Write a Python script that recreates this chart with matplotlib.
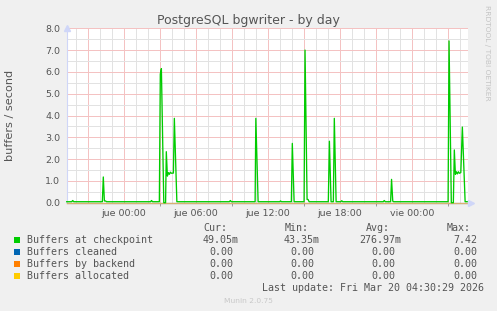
import matplotlib
matplotlib.use("Agg")
import matplotlib.pyplot as plt
from matplotlib.patches import Rectangle

# ---------------- data ----------------
title = "PostgreSQL bgwriter - by day"
ylabel = "buffers / second"
xtick_hours = [0, 6, 12, 18, 24]
xtick_labels = ["jue 00:00", "jue 06:00", "jue 12:00", "jue 18:00", "vie 00:00"]
ytick_values = [0, 1, 2, 3, 4, 5, 6, 7, 8]

# Buffers at checkpoint (hours relative to jue 00:00, buffers/second)
checkpoint_hours = [
    -4.76, -4.34, -4.26, -4.17, -1.79, -1.71, -1.62, -1.52, -1.44,
    2.23, 2.31, 2.39, 2.96, 3.04, 3.13, 3.33, 3.48, 3.54, 3.63, 3.71,
    3.79, 3.88, 3.96, 4.13, 4.21, 4.42, 8.79, 8.88, 8.96, 10.94, 11.00,
    11.19, 12.98, 13.06, 13.14, 13.96, 14.04, 14.19, 15.02, 15.10, 15.27,
    15.35, 15.44, 17.04, 17.13, 17.27, 17.46, 17.54, 17.69, 18.08, 18.16,
    18.24, 21.62, 21.70, 21.79, 22.23, 22.31, 22.41, 22.49, 27.02, 27.10,
    27.29, 27.46, 27.54, 27.63, 27.71, 27.79, 27.88, 27.96, 28.08, 28.21,
    28.44, 28.68,
]
checkpoint_values = [
    0.045, 0.045, 0.10, 0.045, 0.045, 1.18, 0.08, 0.08, 0.045,
    0.045, 0.10, 0.045, 0.045, 5.90, 6.15, 0.0, 0.0, 2.34, 1.22, 1.38,
    1.30, 1.40, 1.35, 1.36, 3.87, 0.045, 0.045, 0.10, 0.045, 0.045, 3.87,
    0.045, 0.045, 0.08, 0.045, 0.045, 2.72, 0.045, 0.045, 7.00, 0.15,
    0.15, 0.045, 0.045, 2.82, 0.045, 0.045, 3.87, 0.045, 0.045, 0.09,
    0.045, 0.045, 0.10, 0.045, 0.045, 1.07, 0.07, 0.045, 0.045, 7.42,
    0.0, 0.0, 2.42, 1.30, 1.42, 1.32, 1.42, 1.35, 1.38, 3.47,
    0.045, 0.049,
]
# the other three series are flat zero over the whole window
zero_hours = [-4.76, 28.68]
cleaned_values = [0.0, 0.0]
backend_values = [0.0, 0.0]
allocated_values = [0.0, 0.0]

legend_names = ["Buffers at checkpoint", "Buffers cleaned",
                "Buffers by backend", "Buffers allocated"]
legend_colors = ["#00CC00", "#0066B3", "#FF8000", "#FFCC00"]
cur_vals = ["49.05m", "0.00", "0.00", "0.00"]
min_vals = ["43.35m", "0.00", "0.00", "0.00"]
avg_vals = ["276.97m", "0.00", "0.00", "0.00"]
max_vals = ["7.42", "0.00", "0.00", "0.00"]
last_update = "Last update: Fri Mar 20 04:30:29 2026"
version = "Munin 2.0.75"
watermark = "RRDTOOL / TOBI OETIKER"

# ---------------- layout ----------------
W, H = 497, 311
fig = plt.figure(figsize=(W / 100, H / 100), dpi=100, facecolor="#F0F0F0")


def fx(px):
    return px / W


def fy(py):
    return 1 - py / H


TXT = "#555555"
L, R, T, B = 66.7, 468.0, 28.3, 202.7
ax = fig.add_axes([fx(L), fy(B), (R - L) / W, (B - T) / H])
ax.set_facecolor("white")
ax.set_xlim(-4.76, 28.68)
ax.set_ylim(0, 8)

# grid (dotted)
dots = (0, (1, 1))
minor_c = "#e2e2e2"
major_c = "#f4c2c2"
minor_x = [h for h in range(-4, 29) if h % 3 != 0]
major_x = [h for h in range(-4, 29) if h % 3 == 0]
for coll in [
    ax.vlines(minor_x, 0, 8, colors=minor_c, linewidth=0.72, linestyles=dots, zorder=1),
    ax.vlines(major_x, 0, 8, colors=major_c, linewidth=0.72, linestyles=dots, zorder=1),
    ax.hlines([v + 0.5 for v in range(0, 8)], -4.76, 28.68, colors=minor_c,
              linewidth=0.72, linestyles=dots, zorder=1),
    ax.hlines(range(1, 9), -4.76, 28.68, colors=major_c,
              linewidth=0.72, linestyles=dots, zorder=1),
]:
    coll.set_snap(True)
    coll.set_antialiased(False)

# series
ax.plot(zero_hours, cleaned_values, color=legend_colors[1], lw=0.8, zorder=2, clip_on=False)
ax.plot(zero_hours, backend_values, color=legend_colors[2], lw=0.8, zorder=2, clip_on=False)
ax.plot(zero_hours, allocated_values, color="#D8B070", lw=0.8, zorder=2, clip_on=False)
ax.plot(checkpoint_hours, checkpoint_values, color=legend_colors[0], lw=0.95,
        zorder=3, clip_on=False)

# axes
for s in ["top", "right"]:
    ax.spines[s].set_visible(False)
for s in ["left", "bottom"]:
    ax.spines[s].set_color("#CFD6F8")
    ax.spines[s].set_linewidth(0.8)
    ax.spines[s].set_zorder(1.5)
ax.plot([0], [1], marker="^", color="#CFD6F8", markersize=4.5,
        transform=ax.transAxes, clip_on=False, zorder=4)
ax.plot([1.008], [0], marker=">", color="#CFD6F8", markersize=4.5,
        transform=ax.transAxes, clip_on=False, zorder=4)

ax.set_xticks(xtick_hours)
ax.set_xticklabels(xtick_labels)
ax.set_xticks([3, 9, 15, 21, 27], minor=True)
ax.tick_params(axis="x", which="major", length=0, pad=4.3, labelsize=6.8,
               labelcolor=TXT)
ax.tick_params(axis="x", which="minor", length=2, width=0.7, color="#999999")
ax.set_yticks(ytick_values)
ax.set_yticklabels([f"{v:.1f}" for v in ytick_values])
ax.tick_params(axis="y", length=0, pad=4.8, labelsize=6.8, labelcolor=TXT)

# titles
fig.text(fx(248.3), fy(24.3), title, ha="center", va="baseline",
         fontsize=9, color=TXT)
fig.text(fx(10.5), fy(115), ylabel, ha="center", va="center",
         rotation=90, fontsize=8.1, color=TXT)
fig.text(fx(487.5), fy(53.3), watermark, ha="center", va="center",
         rotation=-90, fontsize=5.4, color="#c4c4c4")

# legend
mono = "DejaVu Sans Mono"
fs = 7.2
fig.text(fx(203.3), fy(231), "Cur:", family=mono, fontsize=fs, color=TXT)
fig.text(fx(284.3), fy(231), "Min:", family=mono, fontsize=fs, color=TXT)
fig.text(fx(365.7), fy(231), "Avg:", family=mono, fontsize=fs, color=TXT)
fig.text(fx(446.7), fy(231), "Max:", family=mono, fontsize=fs, color=TXT)

row_base = [242.7, 254.6, 266.6, 278.6]
sq_top = [237.3, 249.3, 261.0, 273.0]
for i, name in enumerate(legend_names):
    yb = row_base[i]
    fig.patches.append(Rectangle((fx(14), fy(sq_top[i] + 5.6)), 6 / W, 5.6 / H,
                                 transform=fig.transFigure,
                                 facecolor=legend_colors[i], edgecolor="none"))
    fig.text(fx(26.7), fy(yb), name, family=mono, fontsize=fs, color=TXT)
    for col_right, vals in [(239.0, cur_vals), (320.0, min_vals),
                            (401.5, avg_vals), (477.0, max_vals)]:
        s = vals[i]
        if not s.endswith("m") and col_right != 477.0:
            x_end = col_right - 6
        else:
            x_end = col_right
        fig.text(fx(x_end), fy(yb), s, family=mono, fontsize=fs, color=TXT,
                 ha="right")

fig.text(fx(261.7), fy(291), last_update, family=mono, fontsize=fs, color=TXT)
fig.text(fx(248), fy(302.7), version, ha="center", fontsize=5.4, color="#c8c8c8")

fig.savefig("out.png", dpi=100, facecolor=fig.get_facecolor())
